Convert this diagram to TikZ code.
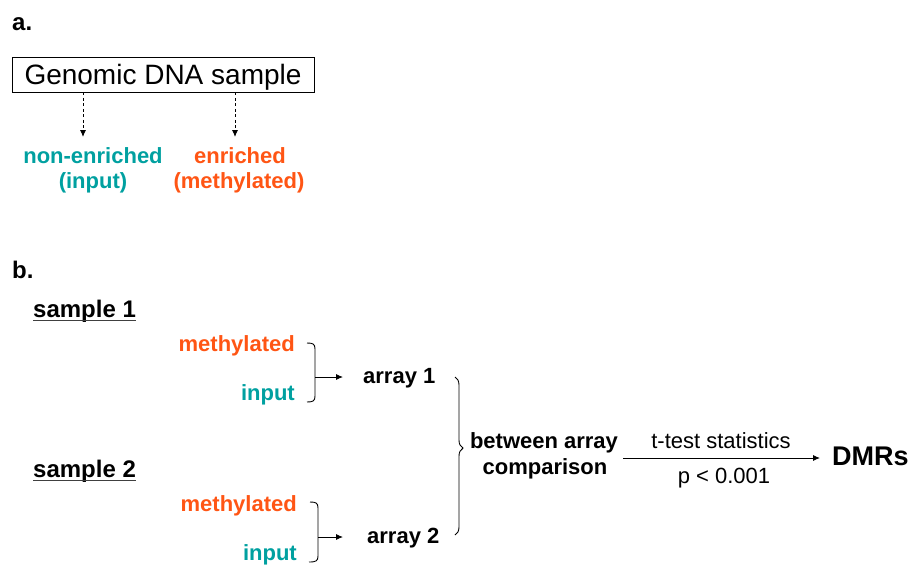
\documentclass[tikz,border=0pt]{standalone}
\usepackage{fontspec}
\setmainfont{Liberation Sans}
\usetikzlibrary{arrows.meta,decorations.pathreplacing}
\definecolor{orng}{RGB}{255,85,20}
\definecolor{tealc}{RGB}{0,160,160}
\begin{document}
\begin{tikzpicture}[x=1pt,y=1pt,
  lbl/.style={inner sep=0pt, anchor=base, font=\fontsize{22}{25}\selectfont\bfseries},
  reg/.style={inner sep=0pt, anchor=base, font=\fontsize{22}{25}\selectfont},
  smp/.style={inner sep=0pt, anchor=base west, font=\fontsize{24}{26}\selectfont\bfseries},
  arr/.style={-{Latex[length=7pt,width=6pt]}, line width=0.9pt},
  darr/.style={-{Latex[length=7pt,width=6pt]}, line width=0.9pt, dash pattern=on 3pt off 2.5pt},
  brk/.style={line width=0.9pt},
  uline/.style={line width=1.8pt, draw=black!75}]
\useasboundingbox (0,0) rectangle (913,-565);
% part a
\node[lbl, anchor=base west, font=\fontsize{24}{26}\selectfont\bfseries] (la) at (12,-30) {a.};
\node[draw, line width=0.9pt, minimum width=302pt, minimum height=35pt, inner sep=0pt, text depth=0pt,
      font=\fontsize{28}{30}\selectfont] (gen) at (163,-74.5) {Genomic DNA sample};
\coordinate (d1) at (83,-137);
\coordinate (d2) at (235,-137);
\draw[darr] (gen.south -| d1) -- (d1);
\draw[darr] (gen.south -| d2) -- (d2);
\node[lbl, text=tealc] (ne1) at (93,-163) {non-enriched};
\node[lbl, text=tealc] (ne2) at (93,-188) {(input)};
\node[lbl, text=orng] (en1) at (240,-163) {enriched};
\node[lbl, text=orng] (en2) at (239,-188) {(methylated)};
% part b
\node[lbl, anchor=base west, font=\fontsize{24}{26}\selectfont\bfseries] (lb) at (12,-278) {b.};
\node[smp] (s1) at (33,-317) {sample 1};
\draw[uline] ([yshift=-3.5pt]s1.base west) -- ([yshift=-3.5pt]s1.base east);
\node[smp] (s2) at (33,-477) {sample 2};
\draw[uline] ([yshift=-3.5pt]s2.base west) -- ([yshift=-3.5pt]s2.base east);
\node[lbl, anchor=base east, text=orng] (m1) at (295,-351) {methylated};
\node[lbl, anchor=base east, text=tealc] (i1) at (295,-400) {input};
\node[lbl, anchor=base east, text=orng] (m2) at (297,-511) {methylated};
\node[lbl, anchor=base east, text=tealc] (i2) at (297,-560) {input};
% bracket 1
\draw[brk] (307,-343) .. controls (313,-343) and (315,-344) .. (315,-349) -- (315,-396)
  .. controls (315,-401) and (313,-402) .. (307,-402);
\coordinate (b1) at (315,-377);
\node[lbl, anchor=base west] (a1) at (363,-383) {array 1};
\draw[arr, shorten >=20pt] (b1) -- (b1 -| a1.west);
% bracket 2
\draw[brk] (310,-502) .. controls (316,-502) and (318,-503) .. (318,-508) -- (318,-556)
  .. controls (318,-561) and (316,-562) .. (309,-562);
\coordinate (b2) at (318,-537);
\node[lbl, anchor=base west] (a2) at (367,-543) {array 2};
\draw[arr, shorten >=24pt] (b2) -- (b2 -| a2.west);
% big brace
\draw[brk, decorate, decoration={brace, amplitude=8pt, aspect=0.45}] (455,-377) -- (455,-535);
\node[lbl] (ba) at (544,-448) {between array};
\node[lbl] (cp) at (545,-474) {comparison};
\coordinate (as) at (623,-458);
\node[lbl, anchor=base west, font=\fontsize{27}{30}\selectfont\bfseries] (dmr) at (832,-465) {DMRs};
\draw[arr, shorten >=12pt] (as) -- (as -| dmr.west);
\node[reg] (tt) at (721,-448) {t-test statistics};
\node[reg] (pv) at (724,-483) {p < 0.001};
\end{tikzpicture}
\end{document}
